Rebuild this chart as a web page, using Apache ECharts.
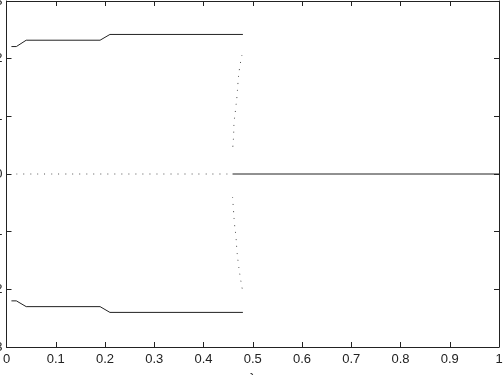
<!DOCTYPE html>
<html>
<head>
<meta charset="utf-8">
<script src="https://cdn.jsdelivr.net/npm/echarts@6/dist/echarts.min.js"></script>
<style>
  html, body { margin: 0; padding: 0; background: #fff; }
  #main { width: 504px; height: 375px; }
</style>
</head>
<body>
<div id="main"></div>
<script>
// stable outer branches
var upperBranch = [[0.01, 2.21], [0.02, 2.21], [0.04, 2.32], [0.19, 2.32], [0.21, 2.42], [0.48, 2.42]];
var lowerBranch = [[0.01, -2.20], [0.02, -2.20], [0.04, -2.30], [0.19, -2.30], [0.21, -2.40], [0.48, -2.40]];
// unstable middle (dotted) and stable middle (solid)
var middleDotted = [[0.02, 0], [0.459, 0]];
var middleSolid = [[0.459, 0], [1, 0]];
// unstable curves near the bifurcation
var curveUpper = [[0.478, 2.06], [0.473, 1.82], [0.470, 1.58], [0.468, 1.35], [0.465, 1.11], [0.462, 0.88], [0.461, 0.65], [0.459, 0.42]];
var curveLower = [[0.459, -0.40], [0.461, -0.64], [0.463, -0.87], [0.466, -1.10], [0.468, -1.34], [0.471, -1.57], [0.475, -1.81], [0.480, -2.05]];

var myChart = echarts.init(document.getElementById('main'));

function solid(data) {
  return {
    type: 'line', data: data, showSymbol: false, animation: false,
    lineStyle: { color: '#222', width: 1 }
  };
}
function dotted(data) {
  return {
    type: 'line', data: data, showSymbol: false, animation: false, smooth: true,
    lineStyle: { color: '#555', width: 1, type: [1, 6] }
  };
}

var axisFont = { color: '#222', fontFamily: 'Liberation Sans', fontSize: 13 };

myChart.setOption({
  animation: false,
  grid: { left: 6.5, right: 5, top: 1, bottom: 28, containLabel: false, outerBoundsMode: 'none' },
  xAxis: [{
    type: 'value', min: 0, max: 1, interval: 0.1,
    name: 'λ', nameLocation: 'middle', nameGap: 25,
    nameTextStyle: { color: '#222', fontFamily: 'Liberation Sans', fontSize: 13 },
    axisLine: { onZero: false, lineStyle: { color: '#222', width: 1 } },
    axisTick: { inside: true, length: 5, lineStyle: { color: '#222' } },
    axisLabel: Object.assign({ margin: 6, formatter: function (v) { return String(+v.toFixed(1)); } }, axisFont),
    splitLine: { show: false }
  }, {
    type: 'value', min: 0, max: 1, interval: 0.1, position: 'top',
    axisLine: { show: true, onZero: false, lineStyle: { color: '#222', width: 1 } },
    axisTick: { inside: true, length: 5, lineStyle: { color: '#222' } },
    axisLabel: { show: false }, splitLine: { show: false }
  }],
  yAxis: [{
    type: 'value', min: -3, max: 3, interval: 1,
    axisLine: { show: true, onZero: false, lineStyle: { color: '#222', width: 1 } },
    axisTick: { inside: true, length: 5, lineStyle: { color: '#222' } },
    axisLabel: Object.assign({ margin: 4 }, axisFont),
    splitLine: { show: false }
  }, {
    type: 'value', min: -3, max: 3, interval: 1, position: 'right',
    axisLine: { show: true, onZero: false, lineStyle: { color: '#222', width: 1 } },
    axisTick: { inside: true, length: 5, lineStyle: { color: '#222' } },
    axisLabel: { show: false }, splitLine: { show: false }
  }],
  series: [
    solid(upperBranch),
    solid(lowerBranch),
    dotted(middleDotted),
    solid(middleSolid),
    dotted(curveUpper),
    dotted(curveLower)
  ]
});
</script>
</body>
</html>
